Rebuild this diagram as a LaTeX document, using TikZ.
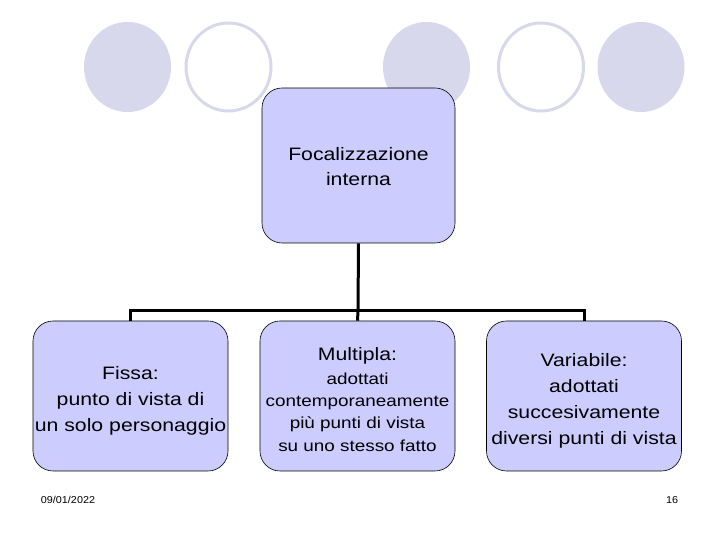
\documentclass[tikz,border=0pt]{standalone}
\usepackage{fontspec}
\setmainfont[FakeStretch=1.18]{Liberation Sans}
\newfontfamily\footfont[FakeStretch=1.08]{Liberation Sans}
\definecolor{circfill}{RGB}{216,216,236}
\definecolor{boxfill}{RGB}{204,204,255}
\begin{document}
\begin{tikzpicture}[x=1pt,y=1pt,
  fullcirc/.style={fill=circfill,draw=none},
  ringcirc/.style={draw=circfill,line width=3pt,fill=white},
  conceptbox/.style={draw=black,line width=0.6pt,fill=boxfill,rounded corners=20pt,
     minimum width=195pt,minimum height=150pt,inner sep=0pt},
  boxtext/.style={align=center,inner sep=0pt,font=\fontsize{18}{25.8}\selectfont},
  small/.style={},
  link/.style={line width=3pt,black},
  foot/.style={font=\footfont\fontsize{10}{12}\selectfont,inner sep=0pt}]
\useasboundingbox (0,0) rectangle (720,540);
\fill[white] (0,0) rectangle (720,540);
% decorative circles
\path[fullcirc] (127.5,473) ellipse [x radius=43.5, y radius=45];
\path[ringcirc] (228.5,473) ellipse [x radius=42.5, y radius=44];
\path[fullcirc] (426.5,473) ellipse [x radius=43.5, y radius=45];
\path[ringcirc] (541,473) ellipse [x radius=42.5, y radius=44];
\path[fullcirc] (641,473) ellipse [x radius=43.5, y radius=45];
% boxes
\node[conceptbox,minimum width=193pt,minimum height=155pt] (top) at (358.5,374.5) {};
\node[conceptbox] (b1) at (130.5,144) {};
\node[conceptbox] (b2) at (357.5,144) {};
\node[conceptbox] (b3) at (584,144) {};
% texts
\node[boxtext] (topt) at ([yshift=-1pt]top.center) {Focalizzazione\\interna};
\node[boxtext] (b1t) at ([yshift=-5pt]b1.center) {Fissa:\\punto di vista di\\un solo personaggio};
\node[boxtext] (b2t) at ([yshift=-3.5pt]b2.center) {Multipla:\\[-2pt]{\fontsize{16}{21}\selectfont adottati}\\[-3.5pt]{\fontsize{16}{21}\selectfont contemporaneamente}\\[-3.5pt]{\fontsize{16}{21}\selectfont più punti di vista}\\[-3.5pt]{\fontsize{16}{21}\selectfont su uno stesso fatto}};
\node[boxtext] (b3t) at ([yshift=-5pt]b3.center) {Variabile:\\adottati\\succesivamente\\diversi punti di vista};
\coordinate (bus) at (358,229);
% connectors
\draw[link] (top.south) -- (bus);
\draw[link] (b1.north) |- (bus) -| (b3.north);
\draw[link] (bus) -- (b2.north);
% footer
\node[foot] (date) at (68,40) {09/01/2022};
\node[foot] (page) at (672,40) {16};
\end{tikzpicture}
\end{document}
